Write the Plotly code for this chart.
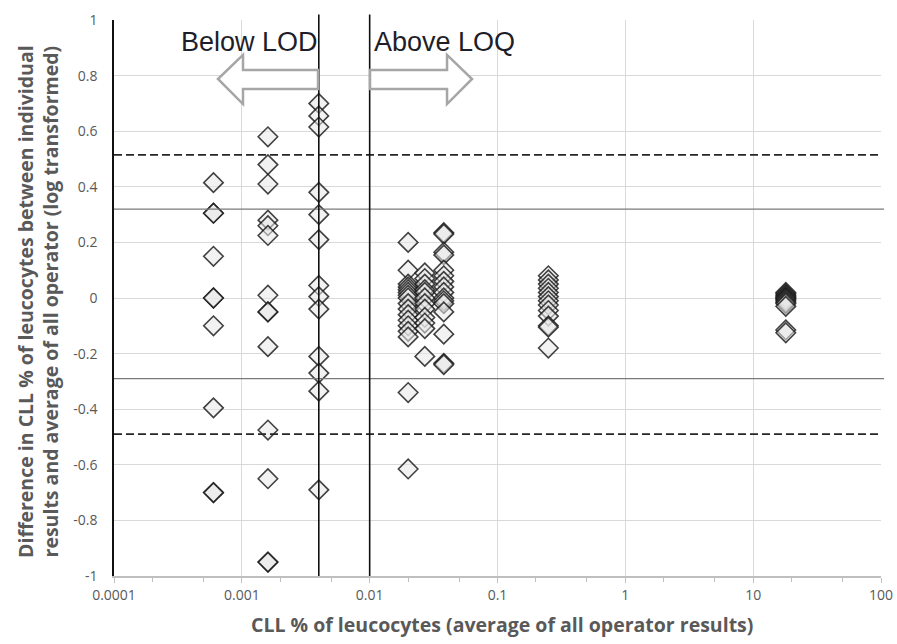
import plotly.graph_objects as go

# CLL % of leucocytes (average of all operators) for each sample group
group_x = [0.0006, 0.0016, 0.004, 0.02, 0.027, 0.038, 0.25, 18.0]

# Difference between individual result and operator average (log transformed)
diff_g1 = [0.415, 0.305, 0.305, 0.15, 0.0, 0.0, -0.1, -0.395, -0.7, -0.7]
diff_g2 = [0.58, 0.48, 0.41, 0.28, 0.26, 0.225, 0.01, -0.05, -0.05, -0.175,
           -0.475, -0.65, -0.95, -0.95]
diff_g3 = [0.70, 0.655, 0.615, 0.38, 0.30, 0.21, 0.045, 0.005, -0.04, -0.21,
           -0.27, -0.335, -0.69]
diff_g4 = [0.20, 0.10, 0.05, 0.04, 0.03, 0.02, 0.01, 0.0, -0.02, -0.04, -0.06,
           -0.08, -0.10, -0.12, -0.14, -0.34, -0.615]
diff_g5 = [0.09, 0.07, 0.05, 0.03, 0.02, 0.0, -0.02, -0.04, -0.07, -0.09,
           -0.11, -0.21]
diff_g6 = [0.235, 0.23, 0.165, 0.155, 0.10, 0.08, 0.06, 0.04, 0.02, 0.0, -0.01,
           -0.02, -0.05, -0.13, -0.235, -0.24]
diff_g7 = [0.08, 0.065, 0.05, 0.035, 0.02, 0.005, -0.01, -0.025, -0.045,
           -0.065, -0.1, -0.105, -0.18]
diff_g8 = [0.02, 0.015, 0.01, 0.005, 0.0, 0.0, -0.005, -0.01, -0.015, -0.02,
           -0.03, -0.115, -0.125]

groups = [diff_g1, diff_g2, diff_g3, diff_g4, diff_g5, diff_g6, diff_g7, diff_g8]

# Limits
lod = 0.004
loq = 0.01
loa_inner = [0.32, -0.29]
loa_outer = [0.515, -0.49]

x_tick_vals = [0.0001, 0.001, 0.01, 0.1, 1, 10, 100]
x_tick_text = ["0.0001", "0.001", "0.01", "0.1", "1", "10", "100"]
y_tick_vals = [-1, -0.8, -0.6, -0.4, -0.2, 0, 0.2, 0.4, 0.6, 0.8, 1]
y_tick_text = ["-1", "-0.8", "-0.6", "-0.4", "-0.2", "0", "0.2", "0.4", "0.6", "0.8", "1"]

xs, ys = [], []
for gx, vals in zip(group_x, groups):
    xs.extend([gx] * len(vals))
    ys.extend(vals)

fig = go.Figure()
fig.add_trace(go.Scatter(
    x=xs, y=ys, mode="markers",
    marker=dict(symbol="diamond", size=15,
                color="rgba(232,232,232,0.55)",
                line=dict(color="rgba(25,25,25,0.82)", width=1.6)),
    showlegend=False, hoverinfo="x+y",
))

shapes = []
# horizontal limits of agreement
for v in loa_inner:
    shapes.append(dict(type="line", xref="paper", yref="y", x0=0, x1=1.004, y0=v, y1=v,
                       line=dict(color="#7a7a7a", width=1.3)))
for v in loa_outer:
    shapes.append(dict(type="line", xref="paper", yref="y", x0=0, x1=1.0, y0=v, y1=v,
                       line=dict(color="#262626", width=1.8, dash="8px,4px")))
# LOD / LOQ verticals
for v in (lod, loq):
    shapes.append(dict(type="line", xref="x", yref="paper", x0=v, x1=v, y0=0, y1=1.01,
                       line=dict(color="#111111", width=1.6)))

# plot-area size in pixels, used to place decorations in paper units
PW, PH = 767.0, 556.0


def arrow_path(pts):
    p = [(x / PW, 1 - y / PH) for x, y in pts]
    return "M " + " L ".join(f"{a:.4f},{b:.4f}" for a, b in p) + " Z"


left_arrow = [(104, 59), (129, 35), (129, 50), (204, 50), (204, 69), (129, 69), (129, 84)]
right_arrow = [(256, 50), (333, 50), (333, 35), (358, 59), (333, 84), (333, 69), (256, 69)]
for pts in (left_arrow, right_arrow):
    shapes.append(dict(type="path", xref="paper", yref="paper", path=arrow_path(pts),
                       fillcolor="white", line=dict(color="#a6a6a6", width=2.5),
                       layer="above"))

label_font = dict(family="Liberation Sans", size=27, color="#1e1e2a")
title_font = dict(family="Open Sans", size=19.5, color="#595959")

fig.update_layout(
    width=897, height=644,
    margin=dict(l=114, r=16, t=20, b=68),
    paper_bgcolor="white", plot_bgcolor="white",
    shapes=shapes,
    font=dict(family="Open Sans", color="#595959"),
    annotations=[
        dict(text="Below LOD", xref="paper", yref="paper", x=135 / PW,
             y=1 - 22 / PH, xanchor="center", yanchor="middle", showarrow=False,
             font=label_font),
        dict(text="Above LOQ", xref="paper", yref="paper", x=330 / PW,
             y=1 - 22 / PH, xanchor="center", yanchor="middle", showarrow=False,
             font=label_font),
        dict(text="<b>CLL % of leucocytes (average of all operator results)</b>",
             xref="paper", yref="paper", x=388 / PW, y=-49 / PH,
             xanchor="center", yanchor="middle", showarrow=False, font=title_font),
        dict(text="<b>Difference in CLL % of leucocytes between individual<br>"
                  "results and average of all operator (log transformed)</b>",
             xref="paper", yref="paper", x=-76 / PW, y=1 - 282 / PH,
             xanchor="center", yanchor="middle", textangle=-90, showarrow=False,
             font=title_font),
    ],
    xaxis=dict(
        type="log", range=[-4, 2], automargin=False,
        tickvals=x_tick_vals, ticktext=x_tick_text,
        tickfont=dict(size=14, color="#595959"),
        showgrid=True, gridcolor="#d9d9d9", gridwidth=1,
        showline=True, linecolor="#bfbfbf", linewidth=1.5,
        ticks="outside", ticklen=5, tickcolor="#bfbfbf",
        minor=dict(ticks="outside", ticklen=4, tickcolor="#bfbfbf", showgrid=False),
        zeroline=False,
    ),
    yaxis=dict(
        range=[-1, 1], automargin=False,
        tickvals=y_tick_vals, ticktext=y_tick_text,
        tickfont=dict(size=14, color="#595959"),
        showgrid=True, gridcolor="#d9d9d9", gridwidth=1,
        showline=True, linecolor="#111111", linewidth=1.6,
        ticks="", ticklabelstandoff=12,
        zeroline=False,
    ),
)

fig.write_html("out.html")
